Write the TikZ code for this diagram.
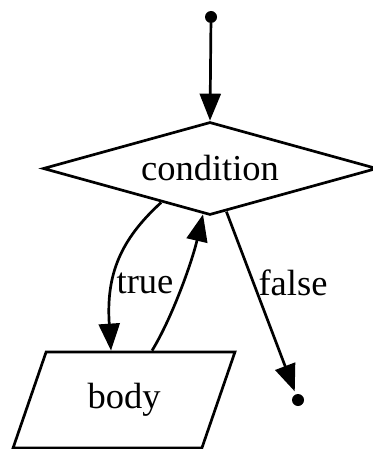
\documentclass[tikz,border=0pt]{standalone}
\usepackage{fontspec}
\setmainfont{Liberation Serif}
\usetikzlibrary{shapes.geometric,arrows.meta,calc}
\begin{document}
\begin{tikzpicture}[x=1pt,y=-1pt,
  every node/.style={font=\fontsize{36.5}{40}\selectfont},
  edge/.style={line width=2.7pt,-{Triangle[length=27pt,width=21pt]}},
  shp/.style={draw,line width=2.7pt,inner sep=0pt},
  dotnode/.style={circle,fill=black,inner sep=0pt,minimum size=12pt}]
\useasboundingbox (0,0) rectangle (372,449);
\node[dotnode] (start) at (211,17) {};
\node[shp,diamond,aspect=3.6,minimum width=334pt,minimum height=93pt] (cond) at (210,168.5) {condition};
\node[shp,trapezium,trapezium left angle=65,trapezium right angle=115,
  trapezium stretches=true,minimum width=222pt,minimum height=96pt] (body) at (124,400) {body};
\node[dotnode] (end) at (298,400) {};
\draw[edge] (start) -- (cond.north);
\coordinate (tstart) at ($(cond.west)!0.71!(cond.south)$);
\coordinate (tend) at ($(body.north)+(-13,0)$);
\coordinate (bstart) at ($(body.north)+(28,0)$);
\coordinate (bend) at ($(cond.south)+(-7,-2)$);
\draw[edge] (tstart) .. controls (120,240) and (106,275) .. (tend);
\draw[edge] (bstart) .. controls (172,318) and (192,262) .. (bend);
\draw[edge,shorten >=3pt] (cond) -- (end);
\node (tl) at (145,283) {true};
\node (fl) at (293,283) {false};
\end{tikzpicture}
\end{document}
